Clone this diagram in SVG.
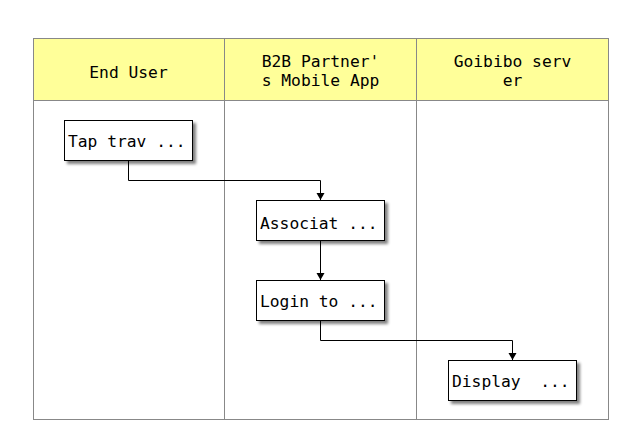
<svg xmlns="http://www.w3.org/2000/svg" width="640" height="440" viewBox="0 0 640 440">
<style>
text{font-family:"DejaVu Sans Mono","Liberation Mono",monospace;font-size:16.3px;fill:#000;white-space:pre}
.lane{fill:none;stroke:#888;stroke-width:1}
.hdr{fill:#ffff99;stroke:#888;stroke-width:1}
.box{fill:#fff;stroke:#000;stroke-width:1}
.con{fill:none;stroke:#000;stroke-width:1}
</style>
<defs>
<filter id="sh" x="-20%" y="-20%" width="150%" height="160%">
<feGaussianBlur in="SourceAlpha" stdDeviation="1.5"/>
<feOffset dx="3" dy="3" result="b"/>
<feComponentTransfer><feFuncA type="linear" slope="0.5"/></feComponentTransfer>
<feMerge><feMergeNode/><feMergeNode in="SourceGraphic"/></feMerge>
</filter>
<marker id="ar" markerWidth="10" markerHeight="10" refX="9" refY="5" orient="auto" markerUnits="userSpaceOnUse" viewBox="0 0 10 10">
<path d="M2,1 L9,5 L2,9 Z" fill="#000"/>
</marker>
</defs>
<g id="lanes">
<rect class="hdr" x="33.5" y="38.5" width="575" height="62"/>
<rect class="lane" x="33.5" y="38.5" width="575" height="381"/>
<line class="lane" x1="224.5" y1="38.5" x2="224.5" y2="419.5"/>
<line class="lane" x1="416.5" y1="38.5" x2="416.5" y2="419.5"/>
<text x="128.5" y="78" text-anchor="middle">End User</text>
<text x="320.5" y="67" text-anchor="middle">B2B Partner'</text>
<text x="320.5" y="86" text-anchor="middle">s Mobile App</text>
<text x="512.5" y="67" text-anchor="middle">Goibibo serv</text>
<text x="512.5" y="86" text-anchor="middle">er</text>
</g>
<g id="connectors">
<polyline class="con" points="128.5,160 128.5,180.5 320.5,180.5 320.5,200" marker-end="url(#ar)"/>
<polyline class="con" points="320.5,240 320.5,280" marker-end="url(#ar)"/>
<polyline class="con" points="320.5,320 320.5,340.5 512.5,340.5 512.5,360" marker-end="url(#ar)"/>
</g>
<g id="n1"><rect class="box" x="64.5" y="120.5" width="128" height="40" filter="url(#sh)"/><text x="68" y="147">Tap trav ...</text></g>
<g id="n2"><rect class="box" x="256.5" y="200.5" width="128" height="40" filter="url(#sh)"/><text x="260" y="229">Associat ...</text></g>
<g id="n3"><rect class="box" x="256.5" y="280.5" width="128" height="40" filter="url(#sh)"/><text x="260" y="307">Login to ...</text></g>
<g id="n4"><rect class="box" x="448.5" y="360.5" width="128" height="40" filter="url(#sh)"/><text x="452" y="387">Display  ...</text></g>
</svg>
